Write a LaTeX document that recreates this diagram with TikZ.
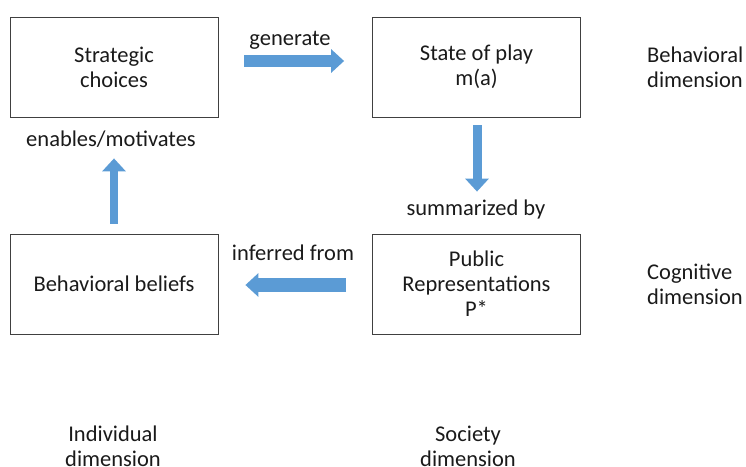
\documentclass[tikz,border=0pt]{standalone}
\usepackage{fontspec}
\setmainfont{Carlito}
\usetikzlibrary{arrows.meta,calc}
\definecolor{boxline}{HTML}{404040}
\definecolor{arrowblue}{HTML}{5B9BD5}
\definecolor{txt}{HTML}{1A1A1A}
\begin{document}
\begin{tikzpicture}[x=1pt,y=-1pt,
  every node/.style={font=\fontsize{22.5pt}{25pt}\selectfont, text=txt, align=center},
  box/.style={draw=boxline, line width=0.8pt, minimum width=208pt, minimum height=100pt, inner sep=0pt},
  blockarrow/.style={color=arrowblue, line width=12pt, -{Triangle[width=23pt,length=13pt]}},
  lbl/.style={inner sep=0pt}]
\useasboundingbox (0,0) rectangle (746,466);
\node[box] (sc) at (114,67) {Strategic\\choices};
\node[box] (sp) at (476.5,67) {State of play\\m(a)};
\node[box] (bb) at (114,284) {Behavioral beliefs};
\node[box] (pr) at (476.5,284) {Public\\Representations\\P*};

\draw[blockarrow, shorten <=26pt, shorten >=28pt] ([yshift=6]sc.east) -- ([yshift=6]sp.west);
\draw[blockarrow, line width=14pt, shorten <=26pt, shorten >=27pt] ([yshift=-1]pr.west) -- ([yshift=-1]bb.east);
\draw[blockarrow, line width=9pt, shorten <=8pt, shorten >=42pt] ([xshift=0.5]sp.south) -- ([xshift=0.5]pr.north);
\draw[blockarrow, line width=8pt, shorten <=10pt, shorten >=41pt] (bb.north) -- (sc.south);

\node (l1) at (290,40) {generate};
\node (l2) at (111,139) {enables/motivates};
\node (l3) at (476,209) {summarized by};
\node (l4) at (293,253) {inferred from};

\node[anchor=west, align=left, inner sep=0pt] (d1) at (647,67) {Behavioral\\dimension};
\node[anchor=west, align=left, inner sep=0pt] (d2) at (647,284.5) {Cognitive\\dimension};
\node (d3) at (113,446) {Individual\\dimension};
\node (d4) at (468,446) {Society\\dimension};
\end{tikzpicture}
\end{document}
